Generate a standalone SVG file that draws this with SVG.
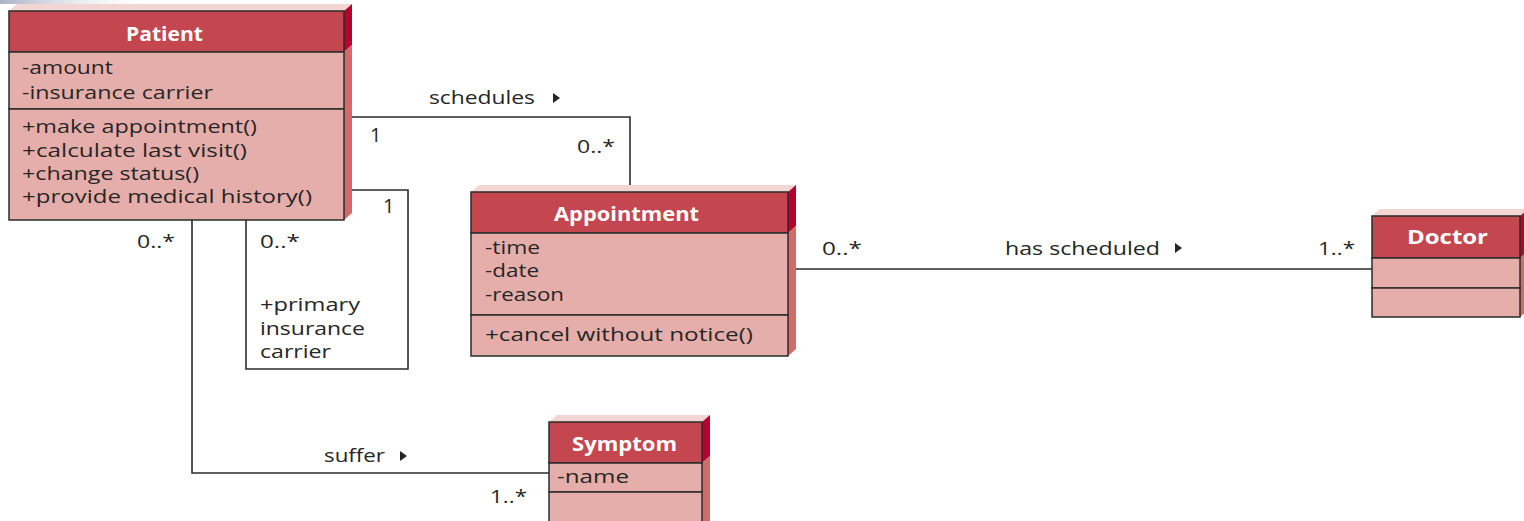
<svg xmlns="http://www.w3.org/2000/svg" width="1524" height="521" viewBox="0 0 1524 521">
  <defs>
    <linearGradient id="topHaze" x1="0" y1="0" x2="1" y2="0">
      <stop offset="0" stop-color="#aab2c6"/>
      <stop offset="1" stop-color="#ffffff" stop-opacity="0"/>
    </linearGradient>
    <style>
      .hdr { fill: #c4464f; stroke: #2b2b2b; stroke-width: 1.5; }
      .cmp { fill: #e6aeab; stroke: #2b2b2b; stroke-width: 1.5; }
      .topf { fill: #f3d6d4; }
      .sideh { fill: #b8002e; }
      .sideb { fill: #d36b6c; }
      .title { font-family: "Open Sans", "Liberation Sans", sans-serif; font-weight: bold; font-size: 20px; fill: #ffffff; }
      .txt { font-family: "Open Sans", "Liberation Sans", sans-serif; font-size: 19px; fill: #262626; }
      .lbl { font-family: "Open Sans", "Liberation Sans", sans-serif; font-size: 18px; fill: #262626; }
      .one { font-family: "Open Sans", "Liberation Sans", sans-serif; font-size: 20px; fill: #262626; }
      .wire { fill: none; stroke: #2b2b2b; stroke-width: 1.6; }
      .dir { fill: #262626; }
    </style>
  </defs>

  <rect width="1524" height="521" fill="#ffffff"/>
  <rect x="0" y="0" width="160" height="4" fill="url(#topHaze)"/>

  <!-- associations -->
  <g id="connectors">
    <!-- Patient schedules Appointment -->
    <path class="wire" d="M351 117 H630 V185"/>
    <text class="lbl" x="429" y="104" textLength="106" lengthAdjust="spacingAndGlyphs">schedules</text>
    <polygon class="dir" points="553,93 560,98 553,103"/>
    <text class="one" x="370" y="142">1</text>
    <text class="lbl" x="577" y="153" textLength="38" lengthAdjust="spacingAndGlyphs">0..*</text>

    <!-- Patient reflexive: primary insurance carrier -->
    <path class="wire" d="M351 190 H408 V369 H246 V220"/>
    <text class="one" x="383" y="213">1</text>
    <text class="lbl" x="260" y="248" textLength="40" lengthAdjust="spacingAndGlyphs">0..*</text>
    <text class="lbl" x="260" y="311" textLength="100" lengthAdjust="spacingAndGlyphs">+primary</text>
    <text class="lbl" x="260" y="335" textLength="105" lengthAdjust="spacingAndGlyphs">insurance</text>
    <text class="lbl" x="260" y="358" textLength="71" lengthAdjust="spacingAndGlyphs">carrier</text>

    <!-- Patient suffers Symptom -->
    <path class="wire" d="M192 220 V473 H549"/>
    <text class="lbl" x="137" y="248" textLength="38" lengthAdjust="spacingAndGlyphs">0..*</text>
    <text class="lbl" x="324" y="462" textLength="61" lengthAdjust="spacingAndGlyphs">suffer</text>
    <polygon class="dir" points="400,451 407,456 400,461"/>
    <text class="lbl" x="490" y="503" textLength="37" lengthAdjust="spacingAndGlyphs">1..*</text>

    <!-- Appointment has scheduled Doctor -->
    <path class="wire" d="M795 269 H1372"/>
    <text class="lbl" x="822" y="255" textLength="40" lengthAdjust="spacingAndGlyphs">0..*</text>
    <text class="lbl" x="1005" y="255" textLength="155" lengthAdjust="spacingAndGlyphs">has scheduled</text>
    <polygon class="dir" points="1175,243 1182,248 1175,253"/>
    <text class="lbl" x="1318" y="255" textLength="37" lengthAdjust="spacingAndGlyphs">1..*</text>
  </g>

  <!-- Patient class -->
  <g id="patient">
    <polygon class="topf" points="9,11 17,4 352,4 344,11"/>
    <polygon class="sideh" points="344,11 352,4 352,45 344,52"/>
    <polygon class="sideb" points="344,52 352,45 352,213 344,220"/>
    <rect class="hdr" x="9" y="11" width="335" height="41"/>
    <rect class="cmp" x="9" y="52" width="335" height="57"/>
    <rect class="cmp" x="9" y="109" width="335" height="111"/>
    <text class="title" x="126" y="41" textLength="77" lengthAdjust="spacingAndGlyphs">Patient</text>
    <text class="txt" x="22" y="74" textLength="91" lengthAdjust="spacingAndGlyphs">-amount</text>
    <text class="txt" x="22" y="99" textLength="191" lengthAdjust="spacingAndGlyphs">-insurance carrier</text>
    <text class="txt" x="22" y="133" textLength="235" lengthAdjust="spacingAndGlyphs">+make appointment()</text>
    <text class="txt" x="22" y="157" textLength="225" lengthAdjust="spacingAndGlyphs">+calculate last visit()</text>
    <text class="txt" x="22" y="180" textLength="177" lengthAdjust="spacingAndGlyphs">+change status()</text>
    <text class="txt" x="22" y="203" textLength="290" lengthAdjust="spacingAndGlyphs">+provide medical history()</text>
  </g>

  <!-- Appointment class -->
  <g id="appointment">
    <polygon class="topf" points="471,192 479,185 796,185 788,192"/>
    <polygon class="sideh" points="788,192 796,185 796,226 788,233"/>
    <polygon class="sideb" points="788,233 796,226 796,349 788,356"/>
    <rect class="hdr" x="471" y="192" width="317" height="41"/>
    <rect class="cmp" x="471" y="233" width="317" height="82"/>
    <rect class="cmp" x="471" y="315" width="317" height="41"/>
    <text class="title" x="554" y="221" textLength="145" lengthAdjust="spacingAndGlyphs">Appointment</text>
    <text class="txt" x="485" y="254" textLength="55" lengthAdjust="spacingAndGlyphs">-time</text>
    <text class="txt" x="485" y="277" textLength="54" lengthAdjust="spacingAndGlyphs">-date</text>
    <text class="txt" x="485" y="301" textLength="79" lengthAdjust="spacingAndGlyphs">-reason</text>
    <text class="txt" x="485" y="341" textLength="268" lengthAdjust="spacingAndGlyphs">+cancel without notice()</text>
  </g>

  <!-- Doctor class -->
  <g id="doctor">
    <polygon class="topf" points="1372,216 1380,209 1528,209 1520,216"/>
    <polygon class="sideh" points="1520,216 1528,209 1528,251 1520,258"/>
    <polygon class="sideb" points="1520,258 1528,251 1528,310 1520,317"/>
    <rect class="hdr" x="1372" y="216" width="148" height="42"/>
    <rect class="cmp" x="1372" y="258" width="148" height="30"/>
    <rect class="cmp" x="1372" y="288" width="148" height="29"/>
    <text class="title" x="1407" y="244" textLength="81" lengthAdjust="spacingAndGlyphs">Doctor</text>
  </g>

  <!-- Symptom class -->
  <g id="symptom">
    <polygon class="topf" points="549,422 557,415 710,415 702,422"/>
    <polygon class="sideh" points="702,422 710,415 710,456 702,463"/>
    <polygon class="sideb" points="702,463 710,456 710,530 702,530"/>
    <rect class="hdr" x="549" y="422" width="153" height="41"/>
    <rect class="cmp" x="549" y="463" width="153" height="29"/>
    <rect class="cmp" x="549" y="492" width="153" height="40"/>
    <text class="title" x="572" y="451" textLength="105" lengthAdjust="spacingAndGlyphs">Symptom</text>
    <text class="txt" x="557" y="483" textLength="72" lengthAdjust="spacingAndGlyphs">-name</text>
  </g>
</svg>
